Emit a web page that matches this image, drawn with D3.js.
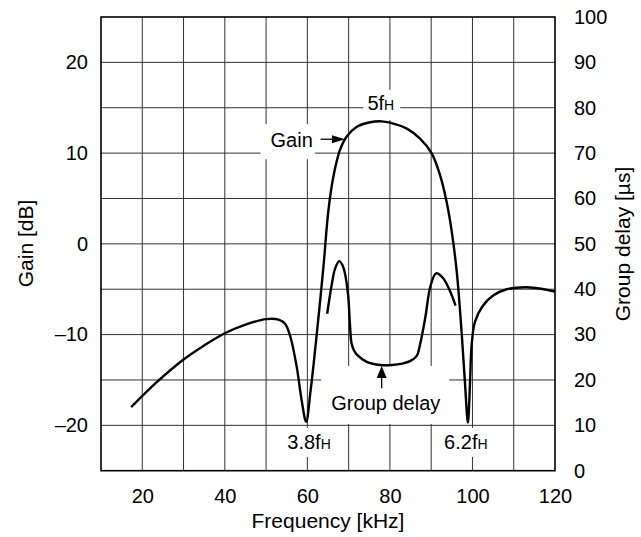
<!DOCTYPE html>
<html>
<head>
<meta charset="utf-8">
<script src="https://cdn.jsdelivr.net/npm/d3@7"></script>
<style>
  html, body { margin: 0; padding: 0; background: #fff; }
  svg { display: block; font-family: "Liberation Sans", Arial, Helvetica, sans-serif; }
</style>
</head>
<body>
<svg id="chart" width="641" height="537"></svg>
<script>
// Frequency response of the band-pass filter: gain and group delay
const gainFreq = [17.3, 23.5, 30, 35, 40, 45, 50, 53, 54.6, 55.8, 57.4, 58.6, 59.7, 60.8, 62.3, 63.9, 65.1, 66.3, 67.9, 69.5, 72, 75.2, 78, 80, 84.1, 87.3, 90.1, 92.2, 93.8, 95.0, 96.2, 97.4, 98.2, 98.9, 99.4, 99.8, 100.6, 102.4, 105, 108.3, 113, 117, 120];
const gainDb   = [-18.0, -15.25, -12.75, -11.2, -9.85, -8.9, -8.3, -8.35, -8.8, -10.1, -13.5, -17.2, -19.6, -16.1, -9.85, -2.5, 3.7, 7.4, 10.35, 11.8, 12.9, 13.4, 13.5, 13.36, 12.7, 11.6, 10.0, 7.5, 4.5, 1.3, -3.1, -9.9, -15.4, -19.7, -15.4, -11.2, -8.6, -6.9, -5.7, -5.0, -4.78, -4.97, -5.27];

const delayFreq = [64.8, 65.9, 66.7, 67.7, 68.5, 69.1, 69.9, 70.3, 70.7, 71.3, 72.0, 74.4, 77.7, 80.5, 83.0, 85.0, 86.5, 87.3, 88.6, 89.8, 91.2, 92.9, 94.6, 95.9];
const delayUs   = [34.6, 41.0, 44.5, 46.2, 45.3, 43.5, 38.4, 32.5, 28.1, 26.5, 25.6, 24.0, 23.3, 23.3, 23.6, 24.2, 25.3, 27.8, 33.9, 40.6, 43.5, 42.4, 39.5, 36.4];

const freqTicks  = [20, 40, 60, 80, 100, 120];
const gainTicks  = [-20, -10, 0, 10, 20];
const delayTicks = [0, 10, 20, 30, 40, 50, 60, 70, 80, 90, 100];
const freqGrid   = [20, 30, 40, 50, 60, 70, 80, 90, 100, 110];
const delayGrid  = [10, 20, 30, 40, 50, 60, 70, 80, 90];

const svg = d3.select("#chart");
const margin = { left: 101, top: 17, right: 86, bottom: 66.3 };
const W = 641 - margin.left - margin.right;
const H = 537 - margin.top - margin.bottom;

const x  = d3.scaleLinear().domain([10, 120]).range([0, W]);
const yG = d3.scaleLinear().domain([-25, 25]).range([H, 0]);
const yD = d3.scaleLinear().domain([0, 100]).range([H, 0]);

const g = svg.append("g").attr("transform", `translate(${margin.left},${margin.top})`);

// grid
g.append("g").selectAll("line").data(freqGrid).join("line")
  .attr("x1", d => x(d)).attr("x2", d => x(d)).attr("y1", 0).attr("y2", H)
  .attr("stroke", "#333").attr("stroke-width", 1);
g.append("g").selectAll("line").data(delayGrid).join("line")
  .attr("y1", d => yD(d)).attr("y2", d => yD(d)).attr("x1", 0).attr("x2", W)
  .attr("stroke", "#333").attr("stroke-width", 1);

const FS = 20;   // tick and annotation text
const TS = 21;   // axis titles

// axes
function styleAxis(sel) {
  sel.select(".domain").remove();
  sel.selectAll("text").attr("font-size", FS).attr("fill", "#000")
     .attr("font-family", "Liberation Sans, Arial, sans-serif");
}
g.append("g").attr("transform", `translate(0,${H})`)
  .call(d3.axisBottom(x).tickValues(freqTicks).tickSize(0).tickPadding(18).tickFormat(d3.format("d")))
  .call(styleAxis);
g.append("g")
  .call(d3.axisLeft(yG).tickValues(gainTicks).tickSize(0).tickPadding(13)
        .tickFormat(d => d < 0 ? "\u2013" + Math.abs(d) : String(d)))
  .call(styleAxis);
g.append("g").attr("transform", `translate(${W},0)`)
  .call(d3.axisRight(yD).tickValues(delayTicks).tickSize(0).tickPadding(19).tickFormat(d3.format("d")))
  .call(styleAxis);

// axis titles
svg.append("text").attr("x", margin.left + W / 2).attr("y", 528)
  .attr("text-anchor", "middle").attr("font-size", TS).text("Frequency [kHz]");
svg.append("text").attr("transform", "translate(33,243.5) rotate(-90)")
  .attr("text-anchor", "middle").attr("font-size", TS).text("Gain [dB]");
svg.append("text").attr("transform", "translate(630,244) rotate(-90)")
  .attr("text-anchor", "middle").attr("font-size", TS).text("Group delay [\u00b5s]");

// annotation layer: white backing boxes are placed under the curves
const boxLayer = g.append("g");
const curveLayer = g.append("g");
const labelLayer = g.append("g");

function fLabel(px, py, main, sub, pad) {
  const t = labelLayer.append("text").attr("x", px).attr("y", py)
    .attr("text-anchor", "middle").attr("font-size", FS);
  t.append("tspan").text(main);
  if (sub) t.append("tspan").attr("font-size", 14).text(sub);
  const b = t.node().getBBox();
  boxLayer.append("rect")
    .attr("x", b.x - pad[3]).attr("y", b.y - pad[0])
    .attr("width", b.width + pad[1] + pad[3]).attr("height", b.height + pad[0] + pad[2])
    .attr("fill", "#fff");
  return b;
}

// frame
g.append("rect").attr("x", 0).attr("y", 0).attr("width", W).attr("height", H)
  .attr("fill", "none").attr("stroke", "#000").attr("stroke-width", 1.6);

// curves
const lineG = d3.line().x((d, i) => x(gainFreq[i])).y(d => yG(d)).curve(d3.curveCatmullRom.alpha(0.5));
const lineD = d3.line().x((d, i) => x(delayFreq[i])).y(d => yD(d)).curve(d3.curveCatmullRom.alpha(0.5));
curveLayer.append("path").attr("d", lineG(gainDb))
  .attr("fill", "none").attr("stroke", "#000").attr("stroke-width", 2.4).attr("stroke-linejoin", "round");
curveLayer.append("path").attr("d", lineD(delayUs))
  .attr("fill", "none").attr("stroke", "#000").attr("stroke-width", 2.4).attr("stroke-linejoin", "round");

// labels
fLabel(x(77.8), yG(14.75), "5f", "H", [2, 6, 6, 4]);
fLabel(x(60.4), yG(-22.6), "3.8f", "H", [3, 3, 4, 3]);
fLabel(x(98.4), yG(-22.6), "6.2f", "H", [3, 3, 4, 3]);

// "Gain" with arrow pointing at the rising edge
fLabel(x(61.4) - 21.5, yG(10.65), "Gain", null, [5, 2, 8, 10]);
const ay = yG(11.53), ax0 = x(63.2), ax1 = x(69.1);
labelLayer.append("line").attr("x1", ax0).attr("x2", ax1 - 10).attr("y1", ay).attr("y2", ay)
  .attr("stroke", "#000").attr("stroke-width", 1.3);
labelLayer.append("path")
  .attr("d", `M${ax1},${ay} L${ax1 - 13},${ay - 4} L${ax1 - 13},${ay + 4} Z`).attr("fill", "#000");

// "Group delay" with arrow pointing at the flat bottom
const db = fLabel(x(79.0), yD(13.4), "Group delay", null, [7, 9, 10, 10]);
const gx = x(78.0), gy1 = yD(23.08), gy0 = yD(18.2);
boxLayer.append("rect").attr("x", db.x - 10).attr("y", gy1).attr("width", db.width + 19)
  .attr("height", db.y - gy1).attr("fill", "#fff");
labelLayer.append("line").attr("x1", gx).attr("x2", gx).attr("y1", gy0).attr("y2", gy1 + 10)
  .attr("stroke", "#000").attr("stroke-width", 1.3);
labelLayer.append("path")
  .attr("d", `M${gx},${gy1} L${gx - 5},${gy1 + 12} L${gx + 5},${gy1 + 12} Z`).attr("fill", "#000");
</script>
</body>
</html>
